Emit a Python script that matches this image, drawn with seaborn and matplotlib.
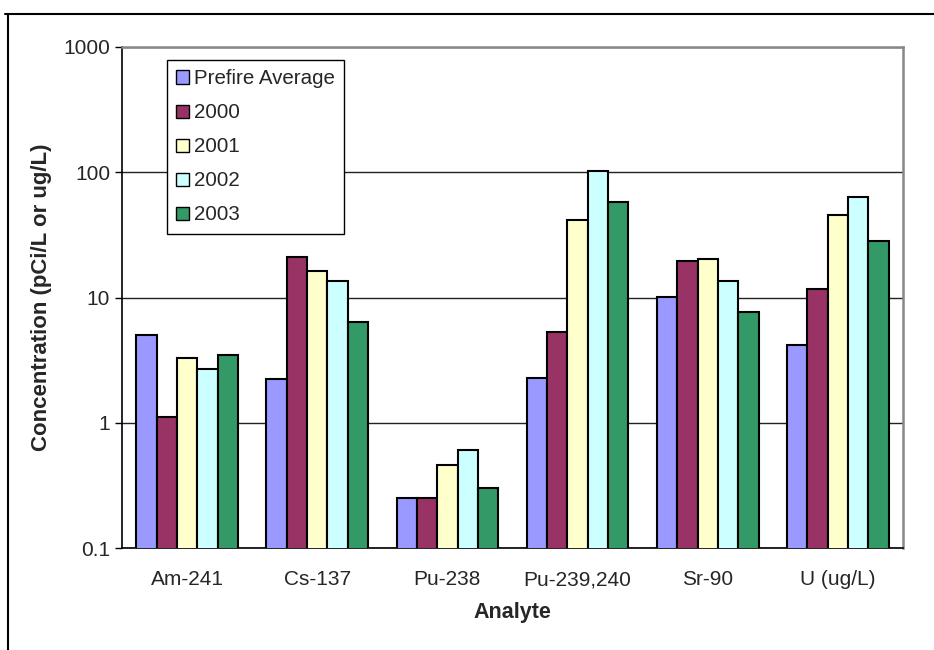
import pandas as pd
import seaborn as sns
import matplotlib.pyplot as plt
from matplotlib.lines import Line2D
from matplotlib.ticker import FixedLocator, NullLocator

analytes = ['Am-241', 'Cs-137', 'Pu-238', 'Pu-239,240', 'Sr-90', 'U (ug/L)']
series = ['Prefire Average', '2000', '2001', '2002', '2003']
prefire = [5.05, 2.24, 0.253, 2.29, 10.1, 4.2]
y2000 = [1.12, 20.9, 0.253, 5.35, 19.4, 11.7]
y2001 = [3.3, 16.4, 0.46, 41.7, 20.2, 45.6]
y2002 = [2.7, 13.6, 0.61, 103, 13.6, 63.5]
y2003 = [3.5, 6.4, 0.30, 58, 7.7, 28]
colors = ['#9999FF', '#993366', '#FFFFCC', '#CCFFFF', '#339966']

rows = []
for name, vals in zip(series, [prefire, y2000, y2001, y2002, y2003]):
    for a, v in zip(analytes, vals):
        rows.append({'Analyte': a, 'Series': name, 'Value': v})
df = pd.DataFrame(rows)

sns.set_style('white')
plt.rcParams['font.family'] = ['Liberation Sans', 'DejaVu Sans']

fig = plt.figure(figsize=(9.34, 6.5), dpi=100)
ax = fig.add_axes([0.1306, 0.1569, 0.8362, 0.7708])

sns.barplot(data=df, x='Analyte', y='Value', hue='Series', order=analytes,
            hue_order=series, palette=colors, width=0.78, gap=0,
            edgecolor='black', linewidth=1.5, saturation=1, ax=ax, zorder=3)
ax.set_yscale('log')
ax.set_ylim(0.1, 1000)
ax.set_xlim(-0.5, 5.5)

ax.yaxis.set_major_locator(FixedLocator([0.1, 1, 10, 100, 1000]))
ax.yaxis.set_minor_locator(NullLocator())
ax.set_yticklabels(['0.1', '1', '10', '100', '1000'])
ax.grid(axis='y', color='#222222', linewidth=1.0, zorder=0)
ax.set_axisbelow(True)

ax.xaxis.set_minor_locator(FixedLocator([i - 0.5 for i in range(7)]))
ax.tick_params(axis='x', which='major', length=0, labelsize=15, pad=16)
ax.tick_params(axis='x', which='minor', length=5, width=1, color='black', direction='out')
ax.tick_params(axis='y', which='major', length=5, width=1, color='black', direction='out',
               labelsize=15, left=True)

for s in ['left', 'bottom']:
    ax.spines[s].set_color('black')
    ax.spines[s].set_linewidth(1.2)
for s in ['top', 'right']:
    ax.spines[s].set_color('#888888')
    ax.spines[s].set_linewidth(1.8)

ax.set_xlabel('Analyte', fontsize=15.5, fontweight='bold', labelpad=9)
ax.set_ylabel('Concentration (pCi/L or ug/L)', fontsize=16, fontweight='bold', labelpad=8)

leg = ax.legend(loc='upper left', bbox_to_anchor=(0.0576, 0.974), fontsize=14.8,
                handlelength=0.6, handleheight=0.6, handletextpad=0.25,
                labelspacing=0.73, borderpad=0.45, borderaxespad=0, frameon=True,
                fancybox=False, framealpha=1, edgecolor='black')
leg.get_frame().set_linewidth(1.0)
for h in leg.legend_handles:
    h.set_edgecolor('black')
    h.set_linewidth(1.0)

fig.add_artist(Line2D([5 / 934, 1], [1 - 14 / 650, 1 - 14 / 650], color='black', linewidth=1.5,
                      transform=fig.transFigure))
fig.add_artist(Line2D([8 / 934, 8 / 934], [0, 1 - 14 / 650], color='black', linewidth=1.5,
                      transform=fig.transFigure))

fig.savefig('out.png', dpi=100)
